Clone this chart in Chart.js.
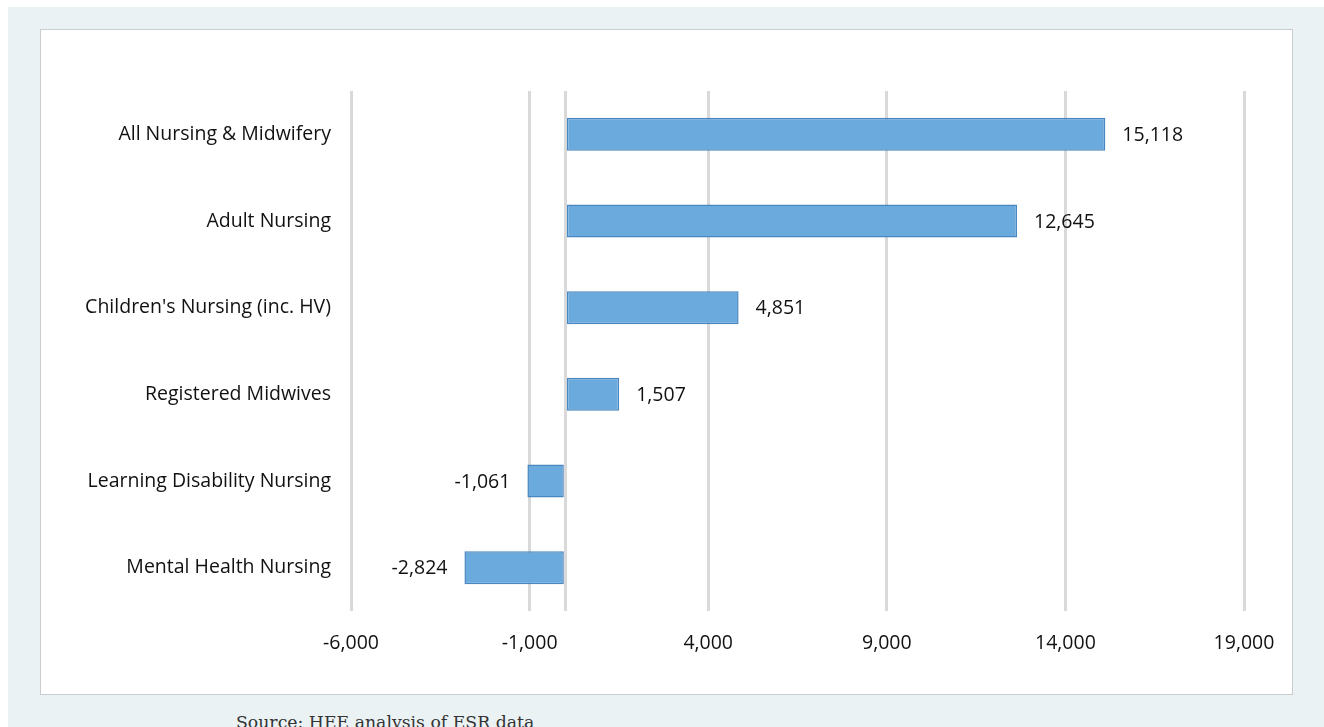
<!DOCTYPE html>
<html lang="en">
<head>
<meta charset="UTF-8" />
<title>Nursing workforce change</title>
<script src="https://cdn.jsdelivr.net/npm/chart.js@4.4.0/dist/chart.umd.min.js"></script>
<style>
  body { margin: 0; background: #fff; overflow: hidden; }
  #page { position: absolute; left: 8px; top: 7px; width: 1316px; height: 720px; background: #ebf2f4; }
  #box { position: absolute; left: 32px; top: 22px; width: 1251px; height: 664px; background: #fff; border: 1px solid #c9cdd0; }
  #source { position: absolute; left: 228px; top: 705px; font-family: "DejaVu Serif", "Liberation Serif", serif; font-size: 17.3px; color: #333; white-space: nowrap; }
</style>
</head>
<body>
<div id="page">
  <div id="box"><canvas id="chart" width="1251" height="664"></canvas></div>
  <div id="source">Source: HEE analysis of ESR data</div>
</div>
<script>
// categories and values
const categories = [
  'All Nursing & Midwifery',
  'Adult Nursing',
  "Children's Nursing (inc. HV)",
  'Registered Midwives',
  'Learning Disability Nursing',
  'Mental Health Nursing'
];
const changes = [15118, 12645, 4851, 1507, -1061, -2824];
const xTicks = [-6000, -1000, 0, 4000, 9000, 14000, 19000];

const fmt = new Intl.NumberFormat('en-US');
const fontFamily = '"Open Sans", "Noto Sans", sans-serif';
const fontSize = 19.5;

// value labels next to the end of each bar
const valueLabels = {
  id: 'valueLabels',
  afterDatasetsDraw(chart) {
    const ctx = chart.ctx;
    const meta = chart.getDatasetMeta(0);
    ctx.save();
    ctx.font = fontSize + 'px ' + fontFamily;
    ctx.fillStyle = '#111';
    ctx.textBaseline = 'middle';
    meta.data.forEach((bar, i) => {
      const v = changes[i];
      if (v >= 0) {
        ctx.textAlign = 'left';
        ctx.fillText(fmt.format(v), bar.x + 17, bar.y + 1);
      } else {
        ctx.textAlign = 'right';
        ctx.fillText(fmt.format(v), bar.x - 17, bar.y + 1);
      }
    });
    ctx.restore();
  }
};

const ctx = document.getElementById('chart').getContext('2d');
new Chart(ctx, {
  type: 'bar',
  data: {
    labels: categories,
    datasets: [{
      data: changes,
      backgroundColor: '#6aaadc',
      borderColor: '#4a86bf',
      borderWidth: 1.5,
      borderSkipped: false,
      categoryPercentage: 1,
      barPercentage: 0.38
    }]
  },
  options: {
    indexAxis: 'y',
    responsive: false,
    animation: false,
    layout: { padding: { top: 61, right: 48, left: 0, bottom: 0 } },
    plugins: {
      legend: { display: false },
      tooltip: { enabled: false }
    },
    scales: {
      x: {
        min: -6000,
        max: 19000,
        afterBuildTicks(axis) {
          axis.ticks = xTicks.map(v => ({ value: v }));
        },
        afterFit(axis) {
          axis.height = 83;
          axis.paddingLeft = 0;
          axis.paddingRight = 0;
        },
        grid: { color: '#d9d9d9', lineWidth: 3, drawTicks: false },
        border: { display: false },
        ticks: {
          padding: 21,
          color: '#111',
          font: { family: fontFamily, size: fontSize },
          callback: v => (v === 0 ? '' : fmt.format(v))
        }
      },
      y: {
        afterFit(axis) { axis.width = 310; },
        grid: { display: false, drawTicks: false },
        border: { display: false },
        ticks: {
          padding: 20,
          color: '#111',
          font: { family: fontFamily, size: fontSize }
        }
      }
    }
  },
  plugins: [valueLabels]
});
</script>
</body>
</html>
